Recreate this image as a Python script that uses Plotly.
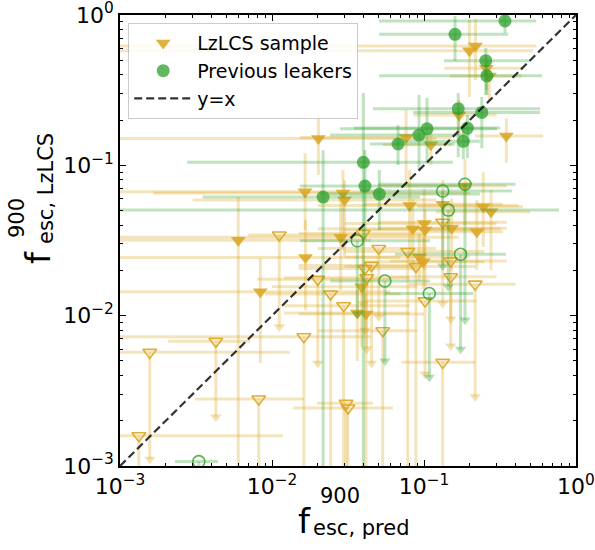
import plotly.graph_objects as go

# ---------------- data ----------------
# LzLCS sample, detections (filled triangles)
lz_x    = [0.199, 0.218, 0.257, 0.269, 0.170, 0.0762, 0.0202, 0.111, 0.348, 0.0165, 0.0293, 0.0300,
           0.0060, 0.0283, 0.0166, 0.00838, 0.0804, 0.133, 0.2455, 0.276, 0.186, 0.0844, 0.1005, 0.1016,
           0.152, 0.2225, 0.0931, 0.0989, 0.0389, 0.0415, 0.0364]
lz_y    = [0.579, 0.622, 0.442, 0.393, 0.216, 0.153, 0.151, 0.137, 0.157, 0.0667, 0.0654, 0.0588,
           0.0318, 0.0332, 0.0244, 0.0144, 0.054, 0.055, 0.053, 0.0491, 0.0728, 0.0379, 0.0411, 0.0371,
           0.0381, 0.0362, 0.0246, 0.0228, 0.0156, 0.01025, 0.0104]
lz_xlo  = [0.0008, 0.0008, 0.136, 0.148, 0.085, 0.0153, 0.0008, 0.0537, 0.217, 0.0008, 0.00165, 0.003,
           0.0008, 0.0008, 0.0008, 0.0008, 0.02, 0.04, 0.090, 0.12, 0.05, 0.02, 0.03, 0.03,
           0.05, 0.105, 0.03, 0.04, 0.01, 0.015, 0.012]
lz_xhi  = [0.52, 0.55, 0.45, 0.44, 0.30, 0.153, 0.12, 0.153, 0.607, 0.051, 0.20, 0.12,
           0.045, 0.17, 0.07, 0.06, 0.42, 0.33, 0.448, 0.50, 0.35, 0.32, 0.30, 0.25,
           0.35, 0.331, 0.20, 0.25, 0.09, 0.10, 0.08]
lz_ylo  = [0.285, 0.370, 0.317, 0.272, 0.159, 0.0739, 0.0862, 0.1005, 0.104, 0.0371, 0.028, 0.025,
           0.0008, 0.0148, 0.0109, 0.00484, 0.0234, 0.0371, 0.0286, 0.0201, 0.04, 0.02, 0.02, 0.015,
           0.02, 0.0201, 0.017, 0.015, 0.0062, 0.0008, 0.005]
lz_yhi  = [0.93, 0.94, 0.542, 0.502, 0.272, 0.233, 0.223, 0.185, 0.206, 0.121, 0.093, 0.080,
           0.0615, 0.0588, 0.0433, 0.0242, 0.093, 0.080, 0.090, 0.0685, 0.11, 0.06, 0.07, 0.05,
           0.06, 0.0588, 0.035, 0.033, 0.022, 0.014, 0.015]

# LzLCS sample, upper limits (open triangles, arrow at lower end)
lzu_x   = [0.01117, 0.0200, 0.0243, 0.0296, 0.00427, 0.00157, 0.00818, 0.00133, 0.0162, 0.0307, 0.0316,
           0.0399, 0.0504, 0.0452, 0.0409, 0.0420, 0.0535, 0.0782, 0.0885, 0.1016, 0.1327, 0.150, 0.150,
           0.217, 0.1327]
lzu_y   = [0.0344, 0.01744, 0.01393, 0.01164, 0.00675, 0.0057, 0.00279, 0.00159, 0.00724, 0.00261, 0.00243,
           0.0352, 0.0280, 0.0216, 0.0206, 0.01787, 0.00793, 0.0267, 0.0212, 0.01254, 0.0418, 0.0231, 0.01815,
           0.0162, 0.00489]
lzu_xlo = [0.007, 0.008, 0.009, 0.012, 0.00207, 0.0008, 0.00311, 0.0008, 0.0008, 0.0198, 0.0137,
           0.015, 0.02, 0.015, 0.015, 0.012, 0.02, 0.03, 0.03, 0.04, 0.05, 0.06, 0.06,
           0.08, 0.0716]
lzu_xhi = [0.10, 0.06, 0.07, 0.08, 0.00717, 0.0131, 0.01626, 0.0118, 0.045, 0.0461, 0.0625,
           0.10, 0.12, 0.10, 0.09, 0.08, 0.09, 0.25, 0.22, 0.22, 0.35, 0.35, 0.30,
           0.40, 0.217]
lzu_ylo = [0.00844, 0.00482, 0.0008, 0.0008, 0.00212, 0.00111, 0.0008, 0.0008, 0.0008, 0.0008, 0.0008,
           0.012, 0.00984, 0.00482, 0.008, 0.006, 0.0008, 0.0008, 0.0008, 0.00409, 0.01207, 0.0095, 0.00628,
           0.00289, 0.0008]

# Previous leakers, detections (filled circles)
pl_x   = [0.341, 0.160, 0.255, 0.259, 0.168, 0.240, 0.1047, 0.0927, 0.193, 0.1815, 0.0675, 0.0399,
          0.0409, 0.0508, 0.0217]
pl_y   = [0.912, 0.744, 0.497, 0.394, 0.238, 0.225, 0.175, 0.159, 0.177, 0.1445, 0.1386, 0.1047,
          0.0728, 0.0644, 0.0615]
pl_xlo = [0.0506, 0.0506, 0.1355, 0.0506, 0.0461, 0.0848, 0.028, 0.0241, 0.0346, 0.0644, 0.0441, 0.00276,
          0.01527, 0.0207, 0.00351]
pl_xhi = [0.546, 0.357, 0.491, 0.597, 0.579, 0.579, 0.302, 0.201, 0.316, 0.233, 0.160, 0.155,
          0.201, 0.233, 0.0942]
pl_ylo = [0.759, 0.494, 0.294, 0.294, 0.1135, 0.130, 0.1036, 0.093, 0.112, 0.11, 0.1005, 0.0008,
          0.0318, 0.0371, 0.0008]
pl_yhi = [0.985, 0.985, 0.603, 0.487, 0.303, 0.285, 0.2805, 0.294, 0.216, 0.18, 0.185, 0.303,
          0.1264, 0.093, 0.126]

# Previous leakers, upper limits (open circles)
plu_x   = [0.1327, 0.1446, 0.186, 0.0364, 0.174, 0.0553, 0.1084, 0.0033]
plu_y   = [0.0675, 0.0504, 0.0748, 0.0315, 0.0256, 0.0170, 0.01403, 0.00107]
plu_xlo = [0.0379, 0.0008, 0.05, 0.01527, 0.0644, 0.0241, 0.0553, 0.0023]
plu_xhi = [0.379, 0.773, 0.40, 0.1094, 0.346, 0.1094, 0.210, 0.00442]
plu_ylo = [0.0214, 0.01557, 0.00935, 0.01025, 0.00597, 0.00499, 0.0039, 0.0005]

identity = [1e-3, 1.0]

tick_vals = [1e-3, 1e-2, 1e-1, 1.0]
tick_text = ["10<sup>\u22123</sup>", "10<sup>\u22122</sup>", "10<sup>\u22121</sup>", "10<sup>0</sup>"]

# ---------------- styling ----------------
YEL = "218,165,32"
GRN = "44,160,44"
FONT = "DejaVu Sans"


def bar_segments(xs, ys, xlo, xhi, ylo, yhi=None):
    sx, sy = [], []
    for i in range(len(xs)):
        sx += [xlo[i], xhi[i], None]
        sy += [ys[i], ys[i], None]
        top = ys[i] if yhi is None else yhi[i]
        sx += [xs[i], xs[i], None]
        sy += [ylo[i], top, None]
    return sx, sy


fig = go.Figure()

# yellow error bars
for xs, ys, xlo, xhi, ylo, yhi in [(lz_x, lz_y, lz_xlo, lz_xhi, lz_ylo, lz_yhi),
                                   (lzu_x, lzu_y, lzu_xlo, lzu_xhi, lzu_ylo, None)]:
    sx, sy = bar_segments(xs, ys, xlo, xhi, ylo, yhi)
    fig.add_trace(go.Scatter(x=sx, y=sy, mode="lines", showlegend=False, hoverinfo="skip",
                             line=dict(color=f"rgba({YEL},0.3)", width=3)))
fig.add_trace(go.Scatter(x=lzu_x, y=lzu_ylo, mode="markers", showlegend=False, hoverinfo="skip",
                         marker=dict(symbol="triangle-down", size=10, color=f"rgba({YEL},0.35)",
                                     line=dict(width=0))))
fig.add_trace(go.Scatter(x=lz_x, y=lz_y, mode="markers", name="LzLCS sample",
                         marker=dict(symbol="triangle-down", size=13, color=f"rgba({YEL},0.85)",
                                     line=dict(width=0))))
fig.add_trace(go.Scatter(x=lzu_x, y=lzu_y, mode="markers", showlegend=False,
                         marker=dict(symbol="triangle-down-open", size=12,
                                     color=f"rgba({YEL},0.9)", line=dict(width=1.6))))

# green error bars
for xs, ys, xlo, xhi, ylo, yhi in [(pl_x, pl_y, pl_xlo, pl_xhi, pl_ylo, pl_yhi),
                                   (plu_x, plu_y, plu_xlo, plu_xhi, plu_ylo, None)]:
    sx, sy = bar_segments(xs, ys, xlo, xhi, ylo, yhi)
    fig.add_trace(go.Scatter(x=sx, y=sy, mode="lines", showlegend=False, hoverinfo="skip",
                             line=dict(color=f"rgba({GRN},0.3)", width=3)))
fig.add_trace(go.Scatter(x=plu_x, y=plu_ylo, mode="markers", showlegend=False, hoverinfo="skip",
                         marker=dict(symbol="triangle-down", size=10, color=f"rgba({GRN},0.35)",
                                     line=dict(width=0))))
fig.add_trace(go.Scatter(x=pl_x, y=pl_y, mode="markers", name="Previous leakers",
                         marker=dict(symbol="circle", size=13, color=f"rgba({GRN},0.75)",
                                     line=dict(width=0))))
fig.add_trace(go.Scatter(x=plu_x, y=plu_y, mode="markers", showlegend=False,
                         marker=dict(symbol="circle-open", size=12,
                                     color=f"rgba({GRN},0.8)", line=dict(width=1.6))))

# y = x
fig.add_trace(go.Scatter(x=identity, y=identity, mode="lines", name="y=x",
                         line=dict(color="rgba(0,0,0,0.8)", width=2.2, dash="8px,4px")))

minor_vals = [m * 10.0 ** e for e in (-3, -2, -1) for m in range(2, 10)]

axis_common = dict(
    type="log", range=[-3, 0], showgrid=False, zeroline=False, automargin=False,
    showline=True, linecolor="black", linewidth=1.5, mirror="allticks",
    ticks="inside", ticklen=6, tickwidth=1.2, tickcolor="black",
    tickmode="array", tickvals=tick_vals, ticktext=tick_text,
    tickfont=dict(family=FONT, size=22, color="black"), ticklabeloverflow="allow",
    minor=dict(ticks="inside", ticklen=3.5, tickwidth=1, tickcolor="black",
               tickmode="array", tickvals=minor_vals, showgrid=False),
)

fig.update_layout(
    width=595, height=550,
    margin=dict(l=120, r=19, t=15, b=84, autoexpand=False),
    paper_bgcolor="white", plot_bgcolor="white",
    xaxis=axis_common, yaxis=axis_common,
    font=dict(family=FONT, color="black"),
    legend=dict(x=0.018, y=0.982, xanchor="left", yanchor="top",
                bgcolor="rgba(255,255,255,0.85)", bordercolor="rgba(0,0,0,0.2)", borderwidth=1,
                font=dict(family=FONT, size=19, color="black"), itemwidth=58,
                tracegroupgap=4),
)

# axis titles (f with stacked super/subscripts)
W, L, B, H = 456.0, 120.0, 466.0, 451.0


def px(xp):
    return (xp - L) / W


def py(yp):
    return (B - yp) / H


ann = [
    dict(text="f", x=px(304), y=py(521), size=34, angle=0),
    dict(text="900", x=px(340), y=py(496), size=21, angle=0),
    dict(text="esc, pred", x=px(361), y=py(528), size=21, angle=0),
    dict(text="f", x=px(38), y=py(258), size=34, angle=-90),
    dict(text="900", x=px(17), y=py(218), size=21, angle=-90),
    dict(text="esc, LzLCS", x=px(46), y=py(189), size=21, angle=-90),
]
for a in ann:
    fig.add_annotation(text=a["text"], x=a["x"], y=a["y"], xref="paper", yref="paper",
                       showarrow=False, xanchor="center", yanchor="middle", textangle=a["angle"],
                       borderpad=0,
                       font=dict(family=FONT, size=a["size"], color="black"))

fig.write_html("out.html")
